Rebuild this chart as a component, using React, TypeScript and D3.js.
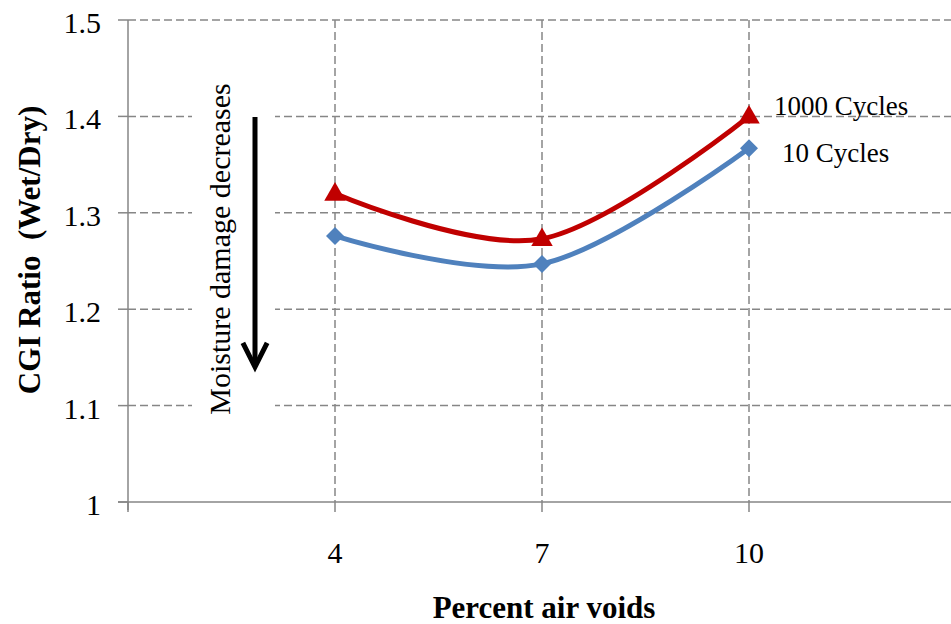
import React from "react";
import * as d3 from "d3";

const airVoids = [4, 7, 10];
const cycles10 = [1.276, 1.247, 1.367];
const cycles1000 = [1.32, 1.273, 1.40];
const yTicks = [1, 1.1, 1.2, 1.3, 1.4, 1.5];
const xTicks = [1, 4, 7, 10, 13];
const xLabels = [4, 7, 10];
const seriesNames = ["10 Cycles", "1000 Cycles"];

const W = 951;
const H = 624;
const FONT = "'Liberation Serif', 'Times New Roman', serif";

export default function App() {
  const x = d3.scaleLinear().domain([1, 13]).range([128, 956]);
  const y = d3.scaleLinear().domain([1, 1.5]).range([502, 20]);
  const line = d3
    .line<number>()
    .x((_, i) => x(airVoids[i]))
    .y((d) => y(d))
    .curve(d3.curveCatmullRom.alpha(0));

  const grid = "#868686";
  const blue = "#4F81BD";
  const red = "#C00000";

  const tri = d3.symbol(d3.symbolTriangle, 200)()!;
  const dia = (s: number) => `M0,${-s}L${s},0L0,${s}L${-s},0Z`;

  return (
    <div style={{ position: "fixed", left: 0, top: 0 }}>
      <svg width={W} height={H} style={{ display: "block", background: "#fff" }}>
        {/* horizontal gridlines */}
        {yTicks.slice(1).map((t) => (
          <line key={"h" + t} x1={x(1)} x2={W} y1={y(t)} y2={y(t)} stroke={grid} strokeWidth={1.5} strokeDasharray="8,4" />
        ))}
        {/* vertical gridlines */}
        {xLabels.map((t) => (
          <line key={"v" + t} x1={x(t)} x2={x(t)} y1={y(1.5)} y2={y(1)} stroke={grid} strokeWidth={1.5} strokeDasharray="8,4" />
        ))}
        {/* axes */}
        <line x1={x(1)} x2={x(1)} y1={y(1.5)} y2={y(1) + 8} stroke={grid} strokeWidth={1.5} />
        <line x1={x(1) - 10} x2={W} y1={y(1)} y2={y(1)} stroke={grid} strokeWidth={1.5} />
        {yTicks.map((t) => (
          <line key={"yt" + t} x1={x(1) - 10} x2={x(1)} y1={y(t)} y2={y(t)} stroke={grid} strokeWidth={1.5} />
        ))}
        {xTicks.map((t) => (
          <line key={"xt" + t} x1={x(t)} x2={x(t)} y1={y(1)} y2={y(1) + 10} stroke={grid} strokeWidth={1.5} />
        ))}
        {/* y tick labels */}
        {yTicks.map((t) => (
          <text key={"yl" + t} x={101} y={y(t) + 13} textAnchor="end" fontFamily={FONT} fontSize={30} fill="#000">
            {t === 1 ? "1" : t.toFixed(1)}
          </text>
        ))}
        {/* x tick labels */}
        {xLabels.map((t) => (
          <text key={"xl" + t} x={x(t)} y={563} textAnchor="middle" fontFamily={FONT} fontSize={30} fill="#000">
            {t}
          </text>
        ))}
        {/* axis titles */}
        <text x={544} y={618} textAnchor="middle" fontFamily={FONT} fontSize={31} fontWeight="bold">
          Percent air voids
        </text>
        <text transform="translate(40,250) rotate(-90)" textAnchor="middle" fontFamily={FONT} fontSize={31} fontWeight="bold" style={{ whiteSpace: "pre" }}>
          {"CGI Ratio  (Wet/Dry)"}
        </text>
        {/* annotation box */}
        <rect x={192} y={32} width={83} height={398} fill="#fff" />
        <text transform="translate(230,249) rotate(-90)" textAnchor="middle" fontFamily={FONT} fontSize={30}>
          Moisture damage decreases
        </text>
        <line x1={255} x2={255} y1={117} y2={366} stroke="#000" strokeWidth={5} />
        <path d="M244,345 L255,367 L266,345" fill="none" stroke="#000" strokeWidth={5} strokeLinejoin="miter" strokeLinecap="square" />
        {/* series lines */}
        <path d={line(cycles10)!} fill="none" stroke={blue} strokeWidth={5} />
        <path d={line(cycles1000)!} fill="none" stroke={red} strokeWidth={5} />
        {cycles10.map((v, i) => (
          <path key={"d" + i} d={dia(9)} transform={`translate(${x(airVoids[i])},${y(v)})`} fill={blue} />
        ))}
        {cycles1000.map((v, i) => (
          <path key={"t" + i} d={tri} transform={`translate(${x(airVoids[i])},${y(v) + 1})`} fill={red} />
        ))}
        {/* series labels */}
        <text x={774} y={115} fontFamily={FONT} fontSize={27}>
          {seriesNames[1]}
        </text>
        <text x={782} y={162} fontFamily={FONT} fontSize={27}>
          {seriesNames[0]}
        </text>
      </svg>
    </div>
  );
}
